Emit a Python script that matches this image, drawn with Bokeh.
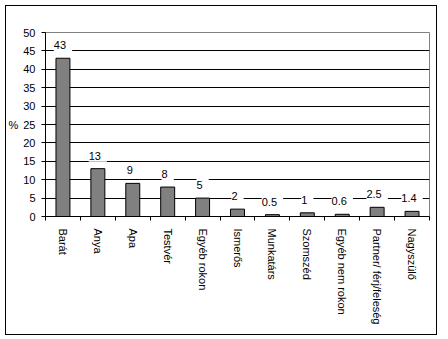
from bokeh.plotting import figure
from bokeh.models import (ColumnDataSource, LinearAxis, FixedTicker, Range1d,
                          LabelSet, Grid, InlineStyleSheet)
from bokeh.core.properties import value
from bokeh.embed import file_html
from bokeh.resources import INLINE

categories = ["Barát", "Anya", "Apa", "Testvér", "Egyéb rokon", "Ismerős",
              "Munkatárs", "Szomszéd", "Egyéb nem rokon", "Partner/ férj/feleség",
              "Nagyszülő"]
values = [43, 13, 9, 8, 5, 2, 0.5, 1, 0.6, 2.5, 1.4]
value_labels = ["43", "13", "9", "8", "5", "2", "0.5", "1", "0.6", "2.5", "1.4"]
y_ticks = [0, 5, 10, 15, 20, 25, 30, 35, 40, 45, 50]

n = len(categories)
xs = [i + 0.5 for i in range(n)]
src = ColumnDataSource(dict(x=xs, top=values, lab=[" %s " % s for s in value_labels]))

FONT = "Liberation Sans"

p = figure(width=448, height=339, output_backend="svg", toolbar_location=None,
           x_range=Range1d(0, n), y_range=Range1d(0, 50),
           min_border_left=45, min_border_right=19, min_border_top=32,
           min_border_bottom=123, x_axis_location=None, y_axis_location=None)
p.outline_line_color = "#808080"
p.background_fill_color = "white"
p.border_fill_color = "white"
p.xgrid.grid_line_color = None
p.ygrid.grid_line_color = None

yax = LinearAxis(ticker=FixedTicker(ticks=y_ticks))
yax.axis_line_color = "black"
yax.major_tick_line_color = "black"
yax.major_tick_out = 4
yax.major_tick_in = 0
yax.minor_tick_line_color = None
yax.major_label_standoff = 6
yax.major_label_text_font = FONT
yax.major_label_text_font_size = "11px"
yax.major_label_text_color = "black"
yax.axis_label = "%"
yax.axis_label_text_font = FONT
yax.axis_label_text_font_size = "11px"
yax.axis_label_text_font_style = "normal"
yax.axis_label_text_color = "black"
yax.axis_label_standoff = 2
yax.axis_label_orientation = "horizontal"
p.add_layout(yax, "left")

p.add_layout(Grid(dimension=1, ticker=FixedTicker(ticks=y_ticks[1:-1]),
                  grid_line_color="black"))

xax1 = LinearAxis(ticker=FixedTicker(ticks=list(range(n + 1))))
xax1.axis_line_color = "black"
xax1.major_tick_line_color = "black"
xax1.major_tick_out = 4
xax1.major_tick_in = 0
xax1.minor_tick_line_color = None
xax1.major_label_text_font_size = "0px"
xax1.major_label_standoff = 0
xax1.major_label_overrides = {i: "" for i in range(n + 1)}
p.add_layout(xax1, "below")

xax2 = LinearAxis(ticker=FixedTicker(ticks=xs))
xax2.axis_line_color = None
xax2.major_tick_line_color = None
xax2.minor_tick_line_color = None
xax2.major_tick_out = 0
xax2.major_label_standoff = 8
xax2.major_label_orientation = "vertical"
xax2.major_label_text_font = FONT
xax2.major_label_text_font_size = "11px"
xax2.major_label_text_color = "black"
xax2.major_label_overrides = {x: c for x, c in zip(xs, categories)}
p.add_layout(xax2, "below")

p.vbar(x="x", top="top", bottom=0, width=0.4, source=src,
       fill_color="#808080", line_color="black", line_width=1)

labels = LabelSet(x="x", y="top", text="lab", source=src, y_offset=13,
                  text_align="center", text_baseline="middle",
                  text_font=value(FONT), text_font_size=value("11px"),
                  text_color="black", background_fill_color="white")
p.add_layout(labels)

p.stylesheets = [InlineStyleSheet(css="""
:host { position: relative; }
:host::after { content: ''; position: absolute; left: 5px; top: 5px;
  width: 432px; height: 330px; box-sizing: border-box;
  border: 1px solid black; pointer-events: none; z-index: 1000; }
""")]

open("out.html", "w").write(file_html(p, INLINE))
